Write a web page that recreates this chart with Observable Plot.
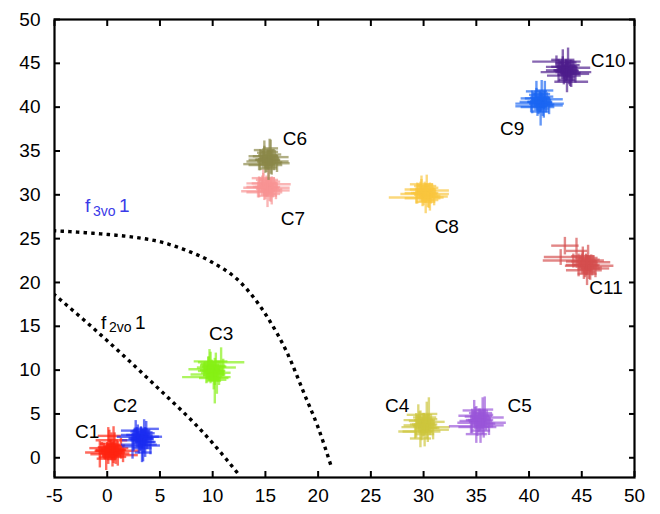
<!DOCTYPE html>
<html>
<head>
<meta charset="utf-8">
<script src="https://cdn.jsdelivr.net/npm/d3@7"></script>
<script src="https://cdn.jsdelivr.net/npm/@observablehq/plot@0.6"></script>
<style>
  html, body { margin: 0; padding: 0; background: #fff; }
</style>
</head>
<body>
<script>
// ---- tick values ----
const xTicks = [-5, 0, 5, 10, 15, 20, 25, 30, 35, 40, 45, 50];
const yTicks = [0, 5, 10, 15, 20, 25, 30, 35, 40, 45, 50];

// ---- clusters: [x, y, xHalfWidth, yHalfWidth] ----
const c1 = [[0.3,0.9,1.4,1.1],[0.7,1.3,0.9,1.6],[-0.2,0.6,1.9,0.8],[1.0,0.5,1.1,1.4],[0.1,1.6,0.8,1.9],[0.5,0.1,1.3,1.1],[-0.5,1.1,1.2,0.7],[1.3,1.1,0.7,1.2],[0.4,2.0,1.5,0.9],[-0.1,-0.1,0.9,1.3],[0.9,0.8,2.1,0.6],[0.6,1.5,0.6,2.1],[-0.7,0.4,0.9,1.5],[1.5,0.3,1.4,0.8],[0.2,2.5,1.1,0.7],[0.0,1.0,0.6,0.6],[0.8,0.2,0.5,0.9],
  [0.2,0.7,0.8,0.7],[0.6,1.0,0.7,0.9],[0.0,1.2,0.9,0.6],[0.8,0.6,0.6,0.8],[0.4,0.4,0.9,0.7],[0.3,1.3,0.7,0.8],[-0.3,0.8,0.8,0.9],[1.1,0.9,0.7,0.6],[0.5,0.8,1.0,1.0],[0.1,0.2,0.6,0.9],[0.9,1.4,0.8,0.7],[-0.1,0.5,0.7,0.6]];
const c2 = [[3.2,2.2,1.2,1.4],[2.8,2.6,1.5,0.9],[3.6,1.8,1.0,1.7],[3.0,1.5,1.7,1.0],[3.5,2.9,0.8,1.5],[2.5,2.0,1.1,1.2],[3.9,2.4,1.3,0.8],[3.3,1.1,0.9,1.6],[2.7,3.1,1.4,1.2],[4.1,1.4,0.9,1.0],[3.1,2.0,0.7,0.7],[2.4,1.3,1.0,1.4],[3.7,3.3,1.2,0.9],[3.4,0.6,0.8,1.0],[2.9,2.4,2.0,0.6],
  [3.0,2.0,0.8,0.8],[3.4,2.4,0.9,0.9],[2.8,2.2,0.7,1.0],[3.6,2.1,0.8,0.7],[3.2,2.7,0.9,0.8],[3.1,1.7,0.7,0.9],[3.8,1.8,0.7,0.8],[2.6,2.6,0.8,0.7],[3.3,2.2,1.0,1.1],[3.5,1.4,0.6,0.8],[2.9,3.0,0.7,0.8],[3.7,2.8,0.8,0.6]];
const c3 = [[9.9,9.9,1.3,1.2],[10.3,10.4,1.0,1.6],[9.5,9.5,1.6,0.9],[10.6,9.7,1.1,1.4],[9.7,10.6,0.9,1.8],[10.1,9.1,1.4,1.3],[9.2,10.1,1.5,0.8],[11.0,10.3,1.2,1.0],[9.8,11.0,1.6,1.1],[10.4,8.9,0.9,1.6],[9.4,9.2,2.3,0.7],[10.8,10.9,2.2,1.7],[10.0,10.0,0.7,0.6],[9.6,10.4,0.8,1.2],[10.2,8.8,0.6,2.6],
  [9.7,9.7,0.8,0.8],[10.1,10.1,0.9,0.9],[9.5,10.0,0.7,1.0],[10.3,9.8,0.8,0.7],[9.9,10.4,0.9,0.8],[9.8,9.4,0.7,0.9],[10.5,9.5,0.7,0.8],[9.3,10.3,0.8,0.7],[10.0,9.9,1.0,1.1],[10.2,9.1,0.6,0.8],[9.6,10.7,0.7,0.8],[10.4,10.5,0.8,0.6]];
const c4 = [[30.0,3.8,1.3,1.3],[29.6,4.3,1.5,1.0],[30.4,3.4,1.1,1.6],[29.8,3.0,1.8,1.0],[30.3,4.6,0.9,1.8],[29.3,3.7,1.2,1.4],[30.7,4.1,1.3,0.9],[30.1,2.7,0.9,1.4],[29.5,4.9,1.1,1.2],[30.9,3.2,1.5,1.1],[29.9,3.9,0.6,0.7],[29.2,3.0,1.6,0.8],[30.5,5.0,0.8,1.9],[30.2,3.5,2.3,0.6],[29.7,2.2,1.0,1.0],
  [29.8,3.6,0.8,0.8],[30.2,4.0,0.9,0.9],[29.6,3.8,0.7,1.0],[30.4,3.7,0.8,0.7],[30.0,4.3,0.9,0.8],[29.9,3.3,0.7,0.9],[30.6,3.4,0.7,0.8],[29.4,4.2,0.8,0.7],[30.1,3.8,1.0,1.1],[30.3,3.0,0.6,0.8],[29.7,4.6,0.7,0.8],[30.5,4.4,0.8,0.6]];
const c5 = [[35.3,4.3,1.3,1.3],[34.9,4.8,1.6,1.0],[35.7,3.9,1.1,1.6],[35.1,3.5,1.8,1.0],[35.6,5.1,0.9,1.8],[34.6,4.2,1.2,1.4],[36.0,4.6,1.6,0.9],[35.4,3.1,0.9,1.4],[34.8,5.4,1.1,1.2],[36.2,3.7,1.4,1.1],[35.2,4.4,0.6,0.7],[34.5,3.6,2.1,0.8],[35.8,5.5,0.8,1.5],[35.5,4.0,2.3,0.6],[35.0,2.7,1.0,1.0],
  [35.1,4.1,0.8,0.8],[35.5,4.5,0.9,0.9],[34.9,4.3,0.7,1.0],[35.7,4.2,0.8,0.7],[35.3,4.8,0.9,0.8],[35.2,3.8,0.7,0.9],[35.9,3.9,0.7,0.8],[34.7,4.7,0.8,0.7],[35.4,4.3,1.0,1.1],[35.6,3.5,0.6,0.8],[35.0,5.1,0.7,0.8],[35.8,4.9,0.8,0.6]];
const c6 = [[15.2,34.0,1.2,1.1],[14.8,34.4,1.4,0.9],[15.6,33.7,1.0,1.4],[15.0,33.4,1.6,0.9],[15.4,34.9,0.8,1.5],[14.5,34.0,1.1,1.2],[15.9,34.3,1.3,0.8],[15.3,33.0,0.8,1.3],[14.9,35.1,1.0,1.1],[16.1,33.6,1.2,1.0],[15.1,34.1,0.6,0.6],[14.4,33.5,1.5,0.7],[15.5,35.3,0.7,1.0],[15.2,33.8,2.0,0.5],
  [15.0,33.8,0.8,0.8],[15.4,34.2,0.9,0.9],[14.8,34.0,0.7,1.0],[15.6,33.9,0.8,0.7],[15.2,34.5,0.9,0.8],[15.1,33.5,0.7,0.9],[15.8,33.6,0.7,0.8],[14.6,34.4,0.8,0.7],[15.3,34.0,1.0,1.1],[15.5,33.2,0.6,0.8],[14.9,34.8,0.7,0.8],[15.7,34.6,0.8,0.6]];
const c7 = [[15.1,30.9,1.3,1.1],[14.7,31.3,1.5,0.9],[15.5,30.6,1.1,1.4],[14.9,30.3,1.7,0.9],[15.3,31.7,0.9,1.3],[14.4,30.9,1.2,1.2],[15.8,31.2,1.6,0.8],[15.2,29.9,0.9,1.3],[14.8,31.9,1.1,1.0],[16.0,30.5,1.3,1.0],[15.0,31.0,0.6,0.6],[14.3,30.4,1.6,0.7],[15.6,30.1,0.8,1.2],[15.1,30.8,2.2,0.5],
  [14.9,30.7,0.8,0.8],[15.3,31.1,0.9,0.9],[14.7,30.9,0.7,1.0],[15.5,30.8,0.8,0.7],[15.1,31.4,0.9,0.8],[15.0,30.4,0.7,0.9],[15.7,30.5,0.7,0.8],[14.5,31.3,0.8,0.7],[15.2,30.9,1.0,1.1],[15.4,30.1,0.6,0.8],[14.8,31.7,0.7,0.8],[15.6,31.5,0.8,0.6]];
const c8 = [[30.1,30.2,1.3,1.1],[29.7,30.6,1.5,0.9],[30.5,29.9,1.1,1.4],[29.9,29.6,1.7,0.9],[30.3,31.0,0.9,1.3],[29.4,30.2,1.2,1.2],[30.8,30.5,1.6,0.8],[30.2,29.2,0.9,1.3],[29.8,31.2,1.1,1.0],[31.0,29.8,1.3,1.0],[30.0,30.3,0.6,0.6],[29.3,29.7,2.6,0.7],[30.6,29.4,0.8,1.2],[30.1,30.1,2.3,0.5],
  [29.9,30.0,0.8,0.8],[30.3,30.4,0.9,0.9],[29.7,30.2,0.7,1.0],[30.5,30.1,0.8,0.7],[30.1,30.7,0.9,0.8],[30.0,29.7,0.7,0.9],[30.7,29.8,0.7,0.8],[29.5,30.6,0.8,0.7],[30.2,30.2,1.0,1.1],[30.4,29.4,0.6,0.8],[29.8,31.0,0.7,0.8],[30.6,30.8,0.8,0.6]];
const c9 = [[41.0,40.6,1.2,1.2],[40.6,41.0,1.4,0.9],[41.4,40.3,1.0,1.5],[40.8,40.0,1.6,1.0],[41.2,41.5,0.8,1.6],[40.3,40.6,1.2,1.3],[41.7,40.9,1.5,0.8],[41.1,39.5,0.8,1.6],[40.7,41.8,1.0,1.2],[41.9,40.2,1.3,1.0],[40.9,40.7,0.6,0.6],[40.2,40.1,1.5,0.7],[41.5,41.9,0.8,1.1],[41.0,40.4,2.3,0.5],
  [40.8,40.4,0.8,0.8],[41.2,40.8,0.9,0.9],[40.6,40.6,0.7,1.0],[41.4,40.5,0.8,0.7],[41.0,41.1,0.9,0.8],[40.9,40.1,0.7,0.9],[41.6,40.2,0.7,0.8],[40.4,41.0,0.8,0.7],[41.1,40.6,1.0,1.1],[41.3,39.8,0.6,0.8],[40.7,41.4,0.7,0.8],[41.5,41.2,0.8,0.6]];
const c10 = [[43.5,44.2,1.2,1.2],[43.1,44.6,1.5,0.9],[43.9,43.9,1.0,1.5],[43.3,43.6,1.6,1.0],[43.7,45.1,0.8,1.7],[42.8,44.2,1.2,1.3],[44.2,44.5,1.6,0.8],[43.6,43.1,0.8,1.4],[43.2,45.4,1.1,1.2],[44.4,43.8,1.3,1.0],[43.4,44.3,0.6,0.6],[42.6,45.2,2.3,0.7],[44.0,42.9,1.6,0.6],[43.5,44.0,2.4,0.5],
  [43.3,44.0,0.8,0.8],[43.7,44.4,0.9,0.9],[43.1,44.2,0.7,1.0],[43.9,44.1,0.8,0.7],[43.5,44.7,0.9,0.8],[43.4,43.7,0.7,0.9],[44.1,43.8,0.7,0.8],[42.9,44.6,0.8,0.7],[43.6,44.2,1.0,1.1],[43.8,43.4,0.6,0.8],[43.2,45.0,0.7,0.8],[44.0,44.8,0.8,0.6]];
const c11 = [[45.4,22.0,1.3,1.2],[45.0,22.4,1.5,0.9],[45.8,21.7,1.1,1.4],[45.2,21.4,1.7,1.0],[45.6,22.8,0.9,1.5],[44.7,22.0,1.2,1.3],[46.1,22.3,1.6,0.8],[45.5,21.0,0.9,1.3],[45.1,23.0,1.1,1.1],[46.3,21.6,1.3,1.0],[45.3,22.1,0.6,0.6],[44.2,22.5,2.9,0.8],[44.5,23.6,1.0,1.5],[45.7,21.9,2.3,0.6],[43.4,24.2,1.3,1.0],[43.0,22.9,1.6,0.9],
  [45.2,21.8,0.8,0.8],[45.6,22.2,0.9,0.9],[45.0,22.0,0.7,1.0],[45.8,21.9,0.8,0.7],[45.4,22.5,0.9,0.8],[45.3,21.5,0.7,0.9],[46.0,21.6,0.7,0.8],[44.8,22.4,0.8,0.7],[45.5,22.0,1.0,1.1],[45.7,21.2,0.6,0.8],[45.1,22.8,0.7,0.8],[45.9,22.6,0.8,0.6]];

const clusterNames = ["C1","C2","C3","C4","C5","C6","C7","C8","C9","C10","C11"];
const clusterColors = ["#ff2410","#1a2cf0","#86f014","#cdc63c","#9a55d8","#8a8848","#f89494","#f9c63e","#1a66f2","#4e1e8c","#d44e4e"];
const clusterData = [c1, c2, c3, c4, c5, c7, c6, c8, c9, c10, c11];
const clusterOrder = ["C1","C2","C3","C4","C5","C7","C6","C8","C9","C10","C11"];

// label anchor positions (data units), in clusterNames order
const labelX = [-1.9, 1.7, 10.8, 27.5, 39.1, 17.8, 17.6, 32.2, 38.4, 47.5, 47.3];
const labelY = [2.9, 5.9, 14.1, 5.9, 5.9, 36.4, 27.3, 26.3, 37.5, 45.3, 19.4];

// dotted boundary curves
const f2x = [-5, -1.34, 4.07, 9.8, 12.7];
const f2y = [18.6, 14.8, 8.8, 1.95, -2.25];
const f3x = [-5, -0.7, 2.48, 5.03, 7.26, 9.8, 12.67, 15.22, 17.13, 18.7, 20.0, 21.27];
const f3y = [25.9, 25.55, 25.17, 24.64, 23.77, 22.4, 19.97, 15.98, 11.8, 7.25, 3.45, -1.1];

// ---- build tables ----
const segments = [];
clusterData.forEach((pts, ci) => {
  pts.forEach(([x, y, ex, ey]) => {
    segments.push({c: clusterOrder[ci], x1: x - ex, y1: y, x2: x + ex, y2: y});
    segments.push({c: clusterOrder[ci], x1: x, y1: y - ey, x2: x, y2: y + ey});
  });
});
const labels = clusterNames.map((n, i) => ({n, x: labelX[i], y: labelY[i]}));
const f2 = f2x.map((x, i) => ({x, y: f2y[i]}));
const f3 = f3x.map((x, i) => ({x, y: f3y[i]}));

const font = "'Liberation Sans', Arial, sans-serif";
const dotStyle = {stroke: "#000", strokeWidth: 3.4, strokeDasharray: "0.1,7.6", strokeLinecap: "square", clip: true, curve: "monotone-x"};

const chart = Plot.plot({
  width: 660,
  height: 514,
  marginLeft: 54,
  marginRight: 26,
  marginTop: 19,
  marginBottom: 37,
  style: {fontFamily: font, fontSize: "19px", background: "#fff", color: "#000"},
  x: {domain: [-5, 50], label: null},
  y: {domain: [-2.25, 50], label: null},
  color: {domain: clusterNames, range: clusterColors},
  marks: [
    Plot.link(segments, {x1: "x1", y1: "y1", x2: "x2", y2: "y2", stroke: "c", strokeWidth: 2.4, strokeOpacity: 0.68}),
    Plot.line(f2, {x: "x", y: "y", ...dotStyle}),
    Plot.line(f3, {x: "x", y: "y", ...dotStyle}),
    Plot.text(labels, {x: "x", y: "y", text: "n", fontSize: 19, fill: "#000", textAnchor: "middle", style: "letter-spacing:0.8px"}),
    // f3vo1 label
    Plot.text([{x: -2.1, y: 28.7}], {x: "x", y: "y", text: () => "f", fontSize: 19, fill: "#3a3ae8", textAnchor: "start"}),
    Plot.text([{x: -2.1, y: 28.7}], {x: "x", y: "y", text: () => "3vo", fontSize: 14, fill: "#3a3ae8", textAnchor: "start", dx: 8, dy: 5}),
    Plot.text([{x: -2.1, y: 28.7}], {x: "x", y: "y", text: () => "1", fontSize: 19, fill: "#3a3ae8", textAnchor: "start", dx: 34}),
    // f2vo1 label
    Plot.text([{x: -0.6, y: 15.4}], {x: "x", y: "y", text: () => "f", fontSize: 19, fill: "#000", textAnchor: "start"}),
    Plot.text([{x: -0.6, y: 15.4}], {x: "x", y: "y", text: () => "2vo", fontSize: 14, fill: "#000", textAnchor: "start", dx: 8, dy: 5}),
    Plot.text([{x: -0.6, y: 15.4}], {x: "x", y: "y", text: () => "1", fontSize: 19, fill: "#000", textAnchor: "start", dx: 34}),
    Plot.frame({stroke: "#000", strokeWidth: 2.2}),
    Plot.axisX({anchor: "bottom", ticks: xTicks, tickSize: -6, tickPadding: 17, strokeWidth: 2, fontSize: 19, tickFormat: d => String(d)}),
    Plot.axisX({anchor: "top", ticks: xTicks, tickSize: -6, strokeWidth: 2, tickFormat: () => ""}),
    Plot.axisY({anchor: "left", ticks: yTicks, tickSize: -6, tickPadding: 20, strokeWidth: 2, fontSize: 19, tickFormat: d => String(d)}),
    Plot.axisY({anchor: "right", ticks: yTicks, tickSize: -6, strokeWidth: 2, tickFormat: () => ""})
  ]
});
document.body.append(chart);
</script>
</body>
</html>
